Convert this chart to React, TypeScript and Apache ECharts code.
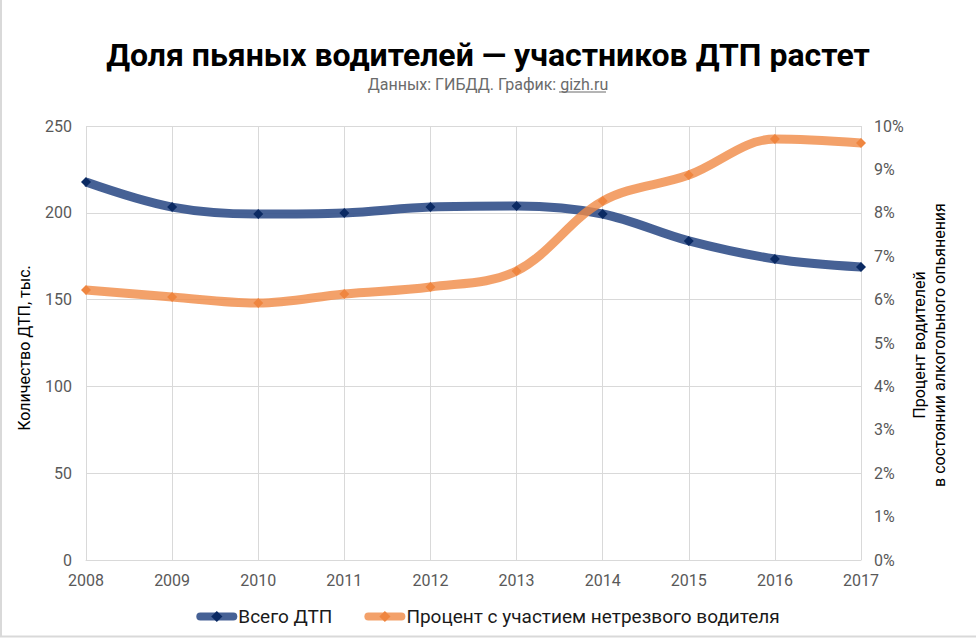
import React, { useEffect, useRef } from "react";
import * as echarts from "echarts";

const years = ["2008", "2009", "2010", "2011", "2012", "2013", "2014", "2015", "2016", "2017"];
const totalAccidents = [217.7, 203.3, 199.3, 199.9, 203.3, 203.9, 199.3, 183.8, 173.4, 168.8];
const drunkShare = [6.22, 6.06, 5.92, 6.13, 6.29, 6.66, 8.27, 8.87, 9.7, 9.61];

const titleText = "Доля пьяных водителей — участников ДТП растет";
const subtitleText = "Данных: ГИБДД. График: gizh.ru";
const leftAxisName = "Количество ДТП, тыс.";
const rightAxisName = "Процент водителей\nв состоянии алкогольного опьянения";
const seriesNames = ["Всего ДТП", "Процент с участием нетрезвого водителя"];

export default function App() {
  const ref = useRef<HTMLDivElement>(null);
  useEffect(() => {
    if (!ref.current) return;
    const chart = echarts.init(ref.current, null, { renderer: "svg" });
    const font = "Roboto, 'Noto Sans', sans-serif";
    const gray = "#595959";
    const grid = "#d9d9d9";
    chart.setOption({
      animation: false,
      backgroundColor: "#ffffff",
      textStyle: { fontFamily: font },
      grid: { left: 86, right: 115, top: 126, bottom: 78, containLabel: false },
      legend: {
        top: 602,
        left: "center",
        itemWidth: 33,
        itemHeight: 14,
        itemGap: 32,
        lineStyle: { width: 8, cap: "round" },
        textStyle: { fontSize: 19, color: "#1a1a1a", fontFamily: font },
        data: seriesNames,
      },
      xAxis: {
        type: "category",
        data: years,
        boundaryGap: false,
        axisLine: { show: true, lineStyle: { color: grid } },
        axisTick: { show: false },
        axisLabel: { color: gray, fontSize: 16, margin: 12, fontFamily: font },
        splitLine: { show: true, lineStyle: { color: grid, width: 1 } },
      },
      yAxis: [
        {
          type: "value",
          min: 0,
          max: 250,
          interval: 50,
          axisLine: { show: false },
          axisTick: { show: false },
          axisLabel: { color: gray, fontSize: 16, margin: 14, fontFamily: font },
          splitLine: { show: true, lineStyle: { color: grid, width: 1 } },
        },
        {
          type: "value",
          min: 0,
          max: 10,
          interval: 1,
          axisLine: { show: false },
          axisTick: { show: false },
          axisLabel: { color: gray, fontSize: 16, margin: 13, formatter: "{value}%", fontFamily: font },
          splitLine: { show: false },
        },
      ],
      series: [
        {
          name: seriesNames[0],
          type: "line",
          yAxisIndex: 0,
          data: totalAccidents,
          smooth: 0.35,
          symbol: "diamond",
          symbolSize: 10,
          lineStyle: { color: "#36548c", width: 9, opacity: 0.92 },
          itemStyle: { color: "#0b2a63" },
          z: 2,
        },
        {
          name: seriesNames[1],
          type: "line",
          yAxisIndex: 1,
          data: drunkShare,
          smooth: 0.35,
          symbol: "diamond",
          symbolSize: 10,
          lineStyle: { color: "#f08a45", width: 9, opacity: 0.8 },
          itemStyle: { color: "#ef8640" },
          z: 3,
        },
      ],
      graphic: [
        {
          type: "text",
          left: "center",
          top: 39,
          style: { text: titleText, fontSize: 32, fontWeight: "bold", fill: "#000000", fontFamily: font },
        },
        {
          type: "text",
          left: "center",
          top: 76,
          style: { text: subtitleText, fontSize: 16, fill: "#6b6b6b", fontFamily: font },
        },
        {
          type: "line",
          shape: { x1: 559, y1: 92, x2: 606, y2: 92 },
          style: { stroke: "#6b6b6b", lineWidth: 1 },
        },
        {
          type: "text",
          x: 24,
          y: 348,
          rotation: Math.PI / 2,
          style: {
            text: leftAxisName,
            fontSize: 16,
            fill: "#000000",
            align: "center",
            verticalAlign: "middle",
            fontFamily: font,
          },
        },
        {
          type: "text",
          x: 929,
          y: 345,
          rotation: Math.PI / 2,
          style: {
            text: rightAxisName,
            fontSize: 16,
            lineHeight: 20,
            fill: "#000000",
            align: "center",
            verticalAlign: "middle",
            fontFamily: font,
          },
        },
        {
          type: "line",
          shape: { x1: 1, y1: 0, x2: 1, y2: 636 },
          style: { stroke: "#d9d9d9", lineWidth: 2 },
        },
        {
          type: "line",
          shape: { x1: 0, y1: 636.5, x2: 976, y2: 636.5 },
          style: { stroke: "#d9d9d9", lineWidth: 2 },
        },
      ],
    });
    return () => chart.dispose();
  }, []);
  return (
    <div
      ref={ref}
      style={{ position: "fixed", left: 0, top: 0, width: 976, height: 638, background: "#fff" }}
    />
  );
}
